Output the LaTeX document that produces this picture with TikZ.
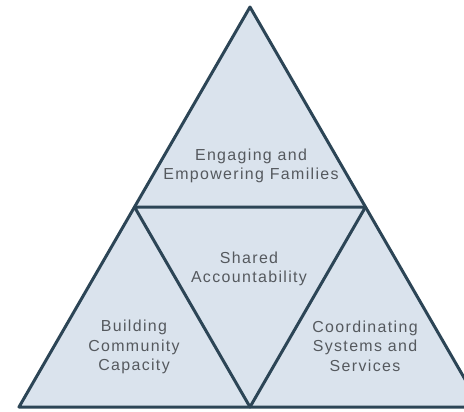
\documentclass[tikz,border=0pt]{standalone}
\usepackage{fontspec}
\setmainfont{Liberation Sans}[LetterSpace=8.5]
\definecolor{triFill}{HTML}{DAE3ED}
\definecolor{triLine}{HTML}{2C4556}
\definecolor{txtGray}{HTML}{55595E}
\begin{document}
\begin{tikzpicture}[x=1bp,y=-1bp,
  tri/.style={fill=triFill,draw=triLine,line width=3bp,line join=round,line cap=round},
  lbl/.style={align=center,text=txtGray,inner sep=0pt,font=\fontsize{16}{19.5}\selectfont}]
\useasboundingbox (0,0) rectangle (464,411);
\coordinate (A) at (250,7);
\coordinate (BL) at (19,407);
\coordinate (BR) at (481,407);
\coordinate (ML) at (134.5,207);
\coordinate (MR) at (365.5,207);
\coordinate (MB) at (250,407);
\draw[tri] (A) -- (BR) -- (BL) -- cycle;
\draw[tri,fill=none] (ML) -- (MR) -- (MB) -- cycle;
\node[lbl] (top) at (251,166) {Engaging and\\Empowering Families};
\node[lbl] (mid) at (249,269) {Shared\\Accountability};
\node[lbl] (left) at (134,347) {Building\\Community\\Capacity};
\node[lbl] (right) at (365,346) {Coordinating\\Systems and\\Services};
\end{tikzpicture}
\end{document}
